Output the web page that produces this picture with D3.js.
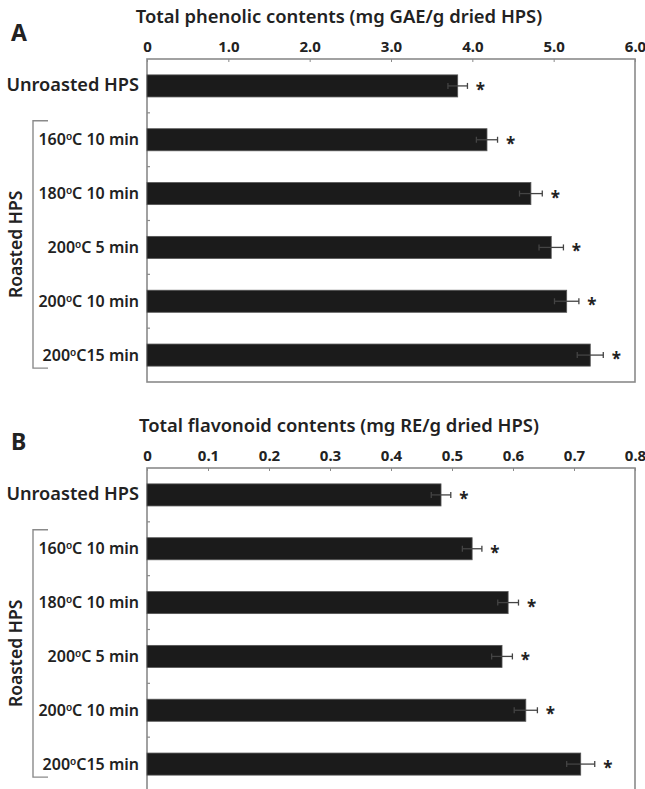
<!DOCTYPE html>
<html><head><meta charset="utf-8">
<script src="https://cdn.jsdelivr.net/npm/d3@7"></script>
<style>body{margin:0;background:#fff}svg{display:block}text{font-family:"Noto Sans","Open Sans",sans-serif;fill:#222}</style>
</head><body><svg id="c" width="645" height="789"></svg>
<script>
const categories = [["Unroasted HPS"],["160","C 10 min"],["180","C 10 min"],["200","C 5 min"],["200","C 10 min"],["200","C15 min"]];
const groupLabel = "Roasted HPS";
const phenolic = [3.82, 4.18, 4.72, 4.97, 5.16, 5.45];
const phenolicErr = [0.12, 0.13, 0.14, 0.15, 0.15, 0.16];
const phenolicTicks = ["0","1.0","2.0","3.0","4.0","5.0","6.0"];
const flavonoid = [0.482, 0.533, 0.592, 0.582, 0.621, 0.711];
const flavonoidErr = [0.016, 0.016, 0.017, 0.017, 0.019, 0.023];
const flavonoidTicks = ["0","0.1","0.2","0.3","0.4","0.5","0.6","0.7","0.8"];

const svg = d3.select("#c");

function panel(o){
  const g = svg.append("g");
  const x = d3.scaleLinear().domain([0, o.max]).range([147, 635]);
  const y = d3.scaleBand().domain(d3.range(categories.length)).range([o.top, o.bottom]).paddingInner(0.59).paddingOuter(0.295);
  const yb = d3.scaleBand().domain(d3.range(categories.length)).range([o.top, o.bottom]);
  g.append("text").attr("x", 11).attr("y", o.top - 18).attr("font-size", 23).attr("font-weight", 700).text(o.letter);
  g.append("text").attr("x", 339).attr("y", o.top - 36).attr("text-anchor","middle").attr("font-size", 18.4).attr("font-weight", 600).text(o.title);
  g.append("rect").attr("x", 147).attr("y", o.top).attr("width", 488).attr("height", o.bottom - o.top).attr("fill","none").attr("stroke","#8a8a8a").attr("stroke-width",1.6);
  const ax = d3.axisTop(x).tickValues(o.ticks.map(Number)).tickSize(-3).tickFormat((d,i)=>o.ticks[i]).tickPadding(7);
  const axg = g.append("g").attr("transform", `translate(0,${o.top})`).call(ax);
  axg.select(".domain").remove();
  axg.selectAll(".tick line").attr("stroke","#8a8a8a");
  axg.selectAll(".tick text").attr("font-size", 15).attr("font-weight", 700).attr("fill","#222").attr("dy", 0);
  const bounds = d3.range(1, categories.length).map(i => yb(i));
  g.selectAll(".yt").data(bounds).join("line").attr("x1",147).attr("x2",150).attr("y1",d=>d).attr("y2",d=>d).attr("stroke","#8a8a8a").attr("stroke-width",1.2);
  g.selectAll(".bar").data(o.values).join("rect").attr("x", x(0)).attr("y",(d,i)=>y(i)).attr("width", d=>x(d)-x(0)).attr("height", y.bandwidth()).attr("fill","#1b1b1b").attr("stroke","#555").attr("stroke-width",0.8);
  const eb = g.selectAll(".eb").data(o.values).join("g").attr("transform",(d,i)=>`translate(0,${y(i)+y.bandwidth()/2})`);
  eb.append("line").attr("x1",(d,i)=>x(d-o.err[i])).attr("x2",(d,i)=>x(d+o.err[i])).attr("stroke","#444").attr("stroke-width",1.3);
  eb.append("line").attr("x1",(d,i)=>x(d-o.err[i])).attr("x2",(d,i)=>x(d-o.err[i])).attr("y1",-3).attr("y2",3).attr("stroke","#444").attr("stroke-width",1.3);
  eb.append("line").attr("x1",(d,i)=>x(d+o.err[i])).attr("x2",(d,i)=>x(d+o.err[i])).attr("y1",-3).attr("y2",3).attr("stroke","#444").attr("stroke-width",1.3);
  eb.append("text").attr("x",(d,i)=>x(d+o.err[i])+13).attr("y",10).attr("text-anchor","middle").attr("font-size",17).attr("font-weight",700).text("*");
  const lab = g.selectAll(".lab").data(categories).join("text").attr("x",139).attr("y",(d,i)=>y(i)+y.bandwidth()/2+5.5).attr("text-anchor","end").attr("font-weight",600).attr("font-size",(d,i)=>i===0?18.2:16);
  lab.each(function(d){
    const t = d3.select(this);
    if(d.length===1){ t.text(d[0]); return; }
    t.append("tspan").text(d[0]);
    t.append("tspan").attr("font-size",10).attr("dy",-5).text("o");
    t.append("tspan").attr("dy",5).text(d[1]);
  });
  const by0 = y(1) - 8, by1 = y(categories.length-1) + y.bandwidth() + 2;
  g.append("path").attr("d",`M48,${by0}H33V${by1}H48`).attr("fill","none").attr("stroke","#8a8a8a").attr("stroke-width",1.4);
  g.append("text").attr("transform",`translate(22,${(by0+by1)/2}) rotate(-90)`).attr("text-anchor","middle").attr("font-size",17.5).attr("font-weight",600).text(groupLabel);
}

panel({letter:"A", title:"Total phenolic contents (mg GAE/g dried HPS)", max:6, ticks:phenolicTicks, values:phenolic, err:phenolicErr, top:59, bottom:382});
panel({letter:"B", title:"Total flavonoid contents (mg RE/g dried HPS)", max:0.8, ticks:flavonoidTicks, values:flavonoid, err:flavonoidErr, top:468, bottom:791});
</script></body></html>
